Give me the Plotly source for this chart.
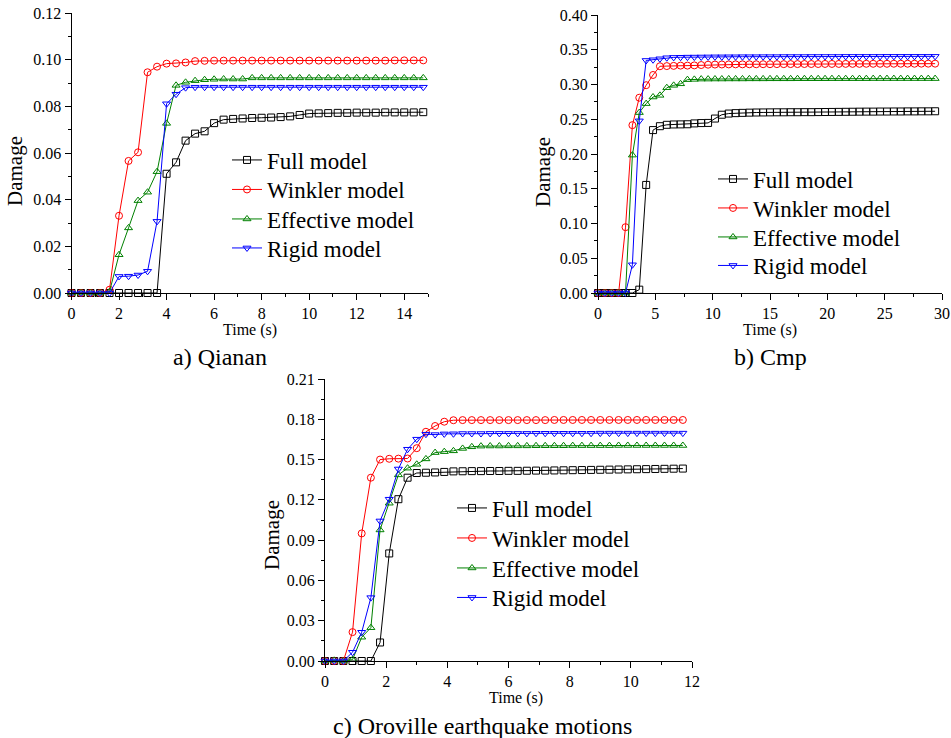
import plotly.graph_objects as go

# ---------------- data ----------------
# a) Qianan, sampled every 0.4 s
time_a = [0.0, 0.4, 0.8, 1.2, 1.6, 2.0, 2.4, 2.8, 3.2, 3.6, 4.0, 4.4, 4.8, 5.2, 5.6,
          6.0, 6.4, 6.8, 7.2, 7.6, 8.0, 8.4, 8.8, 9.2, 9.6, 10.0, 10.4, 10.8, 11.2,
          11.6, 12.0, 12.4, 12.8, 13.2, 13.6, 14.0, 14.4, 14.8]
full_a = [0, 0, 0, 0, 0, 0, 0, 0, 0, 0,
          0.0511, 0.0560, 0.0653, 0.0683, 0.0693, 0.0728, 0.0743, 0.0746, 0.0748, 0.0750,
          0.0751, 0.0752, 0.0754, 0.0757, 0.0763, 0.0769, 0.0770, 0.0771, 0.0772, 0.0772,
          0.0773, 0.0773, 0.0773, 0.0774, 0.0774, 0.0774, 0.0774, 0.0775]
winkler_a = [0, 0, 0, 0, 0.0014, 0.0331, 0.0566, 0.0603, 0.0946, 0.0970, 0.0983, 0.0984,
             0.0988, 0.0994, 0.0995, 0.0996, 0.0996, 0.0996, 0.0996, 0.0996, 0.0996, 0.0996,
             0.0996, 0.0996, 0.0996, 0.0996, 0.0996, 0.0996, 0.0996, 0.0996, 0.0996, 0.0996,
             0.0996, 0.0996, 0.0997, 0.0997, 0.0997, 0.0997]
effective_a = [0, 0, 0, 0, 0.0006, 0.0164, 0.0279, 0.0396, 0.0432, 0.0520, 0.0727, 0.0890,
               0.0903, 0.0910, 0.0914, 0.0916, 0.0917, 0.0917, 0.0917, 0.0922, 0.0922, 0.0922,
               0.0922, 0.0922, 0.0922, 0.0922, 0.0922, 0.0922, 0.0922, 0.0922, 0.0922, 0.0922,
               0.0922, 0.0922, 0.0922, 0.0922, 0.0922, 0.0922]
rigid_a = [0, 0, 0, 0, 0, 0.0071, 0.0072, 0.0077, 0.0093, 0.0307, 0.0811, 0.0852, 0.0880,
           0.0882, 0.0882, 0.0882, 0.0882, 0.0882, 0.0882, 0.0882, 0.0882, 0.0882, 0.0882,
           0.0882, 0.0882, 0.0882, 0.0882, 0.0882, 0.0882, 0.0882, 0.0882, 0.0882, 0.0882,
           0.0882, 0.0882, 0.0882, 0.0882, 0.0882]

# b) Cmp, sampled every 0.6 s
time_b = [0.0, 0.6, 1.2, 1.8, 2.4, 3.0, 3.6, 4.2, 4.8, 5.4, 6.0, 6.6, 7.2, 7.8, 8.4, 9.0,
          9.6, 10.2, 10.8, 11.4, 12.0, 12.6, 13.2, 13.8, 14.4, 15.0, 15.6, 16.2, 16.8, 17.4,
          18.0, 18.6, 19.2, 19.8, 20.4, 21.0, 21.6, 22.2, 22.8, 23.4, 24.0, 24.6, 25.2, 25.8,
          26.4, 27.0, 27.6, 28.2, 28.8, 29.4]
full_b = [0, 0, 0, 0, 0, 0, 0.0048, 0.1555, 0.2344, 0.2400, 0.2420, 0.2425, 0.2426, 0.2428,
          0.2440, 0.2445, 0.2447, 0.2510, 0.2565, 0.2582, 0.2588, 0.2592, 0.2595, 0.2597,
          0.2598, 0.2599, 0.2600, 0.2600, 0.2601, 0.2601, 0.2602, 0.2602, 0.2603, 0.2604,
          0.2605, 0.2606, 0.2607, 0.2608, 0.2609, 0.2610, 0.2610, 0.2611, 0.2611, 0.2612,
          0.2612, 0.2613, 0.2613, 0.2614, 0.2614, 0.2615]
winkler_b = [0, 0, 0, 0, 0.0947, 0.2415, 0.2810, 0.2990, 0.3137, 0.3262, 0.3265, 0.3268,
             0.3272, 0.3272, 0.3275, 0.3280, 0.3285, 0.3287, 0.3288, 0.3289, 0.3290, 0.3290,
             0.3291, 0.3291, 0.3292, 0.3292, 0.3293, 0.3293, 0.3294, 0.3294, 0.3295, 0.3295,
             0.3295, 0.3296, 0.3296, 0.3296, 0.3297, 0.3297, 0.3297, 0.3298, 0.3298, 0.3298,
             0.3298, 0.3299, 0.3299, 0.3299, 0.3299, 0.3300, 0.3300, 0.3300]
effective_b = [0, 0, 0, 0, 0, 0.1984, 0.2596, 0.2725, 0.2820, 0.2844, 0.2954, 0.2988,
               0.3010, 0.3070, 0.3074, 0.3078, 0.3078, 0.3079, 0.3079, 0.3080, 0.3080, 0.3080,
               0.3081, 0.3081, 0.3081, 0.3082, 0.3082, 0.3082, 0.3082, 0.3083, 0.3083, 0.3083,
               0.3083, 0.3083, 0.3084, 0.3084, 0.3084, 0.3084, 0.3084, 0.3084, 0.3085, 0.3085,
               0.3085, 0.3085, 0.3085, 0.3085, 0.3085, 0.3085, 0.3085, 0.3085]
rigid_b = [0, 0, 0, 0, 0, 0.0406, 0.2477, 0.3346, 0.3356, 0.3370, 0.3385, 0.3390, 0.3392,
           0.3394, 0.3395, 0.3396, 0.3397, 0.3398, 0.3398, 0.3399, 0.3399, 0.3400, 0.3400,
           0.3400, 0.3401, 0.3401, 0.3401, 0.3402, 0.3402, 0.3402, 0.3402, 0.3403, 0.3403,
           0.3403, 0.3403, 0.3403, 0.3404, 0.3404, 0.3404, 0.3404, 0.3404, 0.3404, 0.3405,
           0.3405, 0.3405, 0.3405, 0.3405, 0.3405, 0.3405, 0.3405]

# c) Oroville earthquake motions, sampled every 0.3 s
time_c = [0.0, 0.3, 0.6, 0.9, 1.2, 1.5, 1.8, 2.1, 2.4, 2.7, 3.0, 3.3, 3.6, 3.9, 4.2, 4.5,
          4.8, 5.1, 5.4, 5.7, 6.0, 6.3, 6.6, 6.9, 7.2, 7.5, 7.8, 8.1, 8.4, 8.7, 9.0, 9.3,
          9.6, 9.9, 10.2, 10.5, 10.8, 11.1, 11.4, 11.7]
full_c = [0, 0, 0, 0, 0, 0, 0.0138, 0.0801, 0.1205, 0.1365, 0.1400, 0.1402, 0.1404, 0.1408,
          0.1412, 0.1413, 0.1414, 0.1414, 0.1415, 0.1415, 0.1416, 0.1416, 0.1417, 0.1418,
          0.1418, 0.1419, 0.1420, 0.1421, 0.1422, 0.1423, 0.1424, 0.1425, 0.1426, 0.1427,
          0.1428, 0.1429, 0.1430, 0.1431, 0.1432, 0.1433]
winkler_c = [0, 0, 0, 0.0215, 0.0950, 0.1365, 0.1500, 0.1506, 0.1507, 0.1508, 0.1585, 0.1707,
             0.1750, 0.1782, 0.1793, 0.1794, 0.1794, 0.1794, 0.1794, 0.1794, 0.1794, 0.1794,
             0.1794, 0.1794, 0.1794, 0.1795, 0.1795, 0.1795, 0.1795, 0.1795, 0.1795, 0.1795,
             0.1795, 0.1795, 0.1795, 0.1795, 0.1795, 0.1795, 0.1795, 0.1795]
effective_c = [0, 0.0005, 0, 0.0010, 0.0177, 0.0248, 0.0976, 0.1175, 0.1386, 0.1436, 0.1465,
               0.1505, 0.1552, 0.1559, 0.1565, 0.1583, 0.1595, 0.1600, 0.1601, 0.1601, 0.1602,
               0.1602, 0.1602, 0.1603, 0.1603, 0.1603, 0.1603, 0.1604, 0.1604, 0.1604, 0.1604,
               0.1604, 0.1605, 0.1605, 0.1605, 0.1605, 0.1605, 0.1605, 0.1605, 0.1605]
rigid_c = [0, 0, 0, 0.0065, 0.0214, 0.0472, 0.1043, 0.1205, 0.1430, 0.1577, 0.1652, 0.1689,
           0.1686, 0.1691, 0.1692, 0.1694, 0.1694, 0.1694, 0.1695, 0.1695, 0.1695, 0.1695,
           0.1695, 0.1696, 0.1696, 0.1696, 0.1696, 0.1696, 0.1696, 0.1696, 0.1697, 0.1697,
           0.1697, 0.1697, 0.1697, 0.1697, 0.1697, 0.1697, 0.1697, 0.1697]

series_names = ["Full model", "Winkler model", "Effective model", "Rigid model"]
series_colors = ["#000000", "#ff0000", "#008000", "#0000ff"]
series_symbols = ["square-open", "circle-open", "triangle-up-open", "triangle-down-open"]

panel_captions = ["a) Qianan", "b) Cmp", "c) Oroville earthquake motions"]

# ---------------- layout geometry (pixels) ----------------
W, H = 951, 738
FONT = "Liberation Serif"


def px_x(v):
    return v / W


def px_y(v):
    return 1 - v / H


panels = [
    dict(time=time_a, ys=[full_a, winkler_a, effective_a, rigid_a],
         box=(71.5, 428, 13, 293), xrange=[0, 15], xdtick=2, yrange=[0, 0.12], ydtick=0.02,
         title_y=(15, 171), time_label=(250, 330), caption=(220, 357),
         legend_x=227, legend_rows=[160, 189.5, 219, 248]),
    dict(time=time_b, ys=[full_b, winkler_b, effective_b, rigid_b],
         box=(598, 942, 15, 293), xrange=[0, 30], xdtick=5, yrange=[0, 0.40], ydtick=0.05,
         title_y=(543, 172), time_label=(770, 330), caption=(770, 357),
         legend_x=713, legend_rows=[179, 208, 237, 265.5]),
    dict(time=time_c, ys=[full_c, winkler_c, effective_c, rigid_c],
         box=(325, 692, 379, 661), xrange=[0, 12], xdtick=2, yrange=[0, 0.21], ydtick=0.03,
         title_y=(272, 535), time_label=(516, 698), caption=(483, 726),
         legend_x=452, legend_rows=[508, 538, 568, 597.5]),
]

fig = go.Figure()
annotations = []
legend_idx = 0

for p_i, p in enumerate(panels):
    ax_suffix = "" if p_i == 0 else str(p_i + 1)
    xref = "x" + ax_suffix
    yref = "y" + ax_suffix
    x0, x1, y0, y1 = p["box"]

    for s_i in range(4):
        legend_idx += 1
        leg_name = "legend" if legend_idx == 1 else "legend" + str(legend_idx)
        fig.add_trace(go.Scatter(
            x=p["time"], y=p["ys"][s_i], name=series_names[s_i],
            mode="lines+markers", xaxis=xref, yaxis=yref,
            line=dict(color=series_colors[s_i], width=1),
            marker=dict(symbol=series_symbols[s_i], size=7, color=series_colors[s_i],
                        line=dict(width=1, color=series_colors[s_i])),
            legend=leg_name, showlegend=True, cliponaxis=False,
        ))
        fig.layout[leg_name] = dict(
            x=px_x(p["legend_x"]), xanchor="left",
            y=px_y(p["legend_rows"][s_i]), yanchor="middle",
            bgcolor="rgba(0,0,0,0)", borderwidth=0,
            font=dict(family=FONT, size=23, color="#000000"),
            itemwidth=30,
        )

    axis_common = dict(
        showline=True, linecolor="#000000", linewidth=1, mirror=False,
        ticks="outside", ticklen=6, tickwidth=1, tickcolor="#000000",
        showgrid=False, zeroline=False, automargin=False,
        tickfont=dict(family=FONT, size=16, color="#000000"),
    )
    fig.layout["xaxis" + ax_suffix] = dict(
        axis_common, domain=[px_x(x0), px_x(x1)], anchor=yref,
        range=p["xrange"], tick0=0, dtick=p["xdtick"],
        minor=dict(ticks="outside", ticklen=3, tickcolor="#000000",
                   dtick=p["xdtick"] / 2, showgrid=False),
    )
    fig.layout["yaxis" + ax_suffix] = dict(
        axis_common, domain=[px_y(y1), px_y(y0)], anchor=xref,
        range=p["yrange"], tick0=0, dtick=p["ydtick"], tickformat=".2f",
        minor=dict(ticks="outside", ticklen=3, tickcolor="#000000",
                   dtick=p["ydtick"] / 2, showgrid=False),
    )

    tx, ty = p["title_y"]
    annotations.append(dict(text="Damage", x=px_x(tx), y=px_y(ty), xref="paper", yref="paper",
                            textangle=-90, showarrow=False, xanchor="center", yanchor="middle",
                            font=dict(family=FONT, size=21, color="#000000")))
    lx, ly = p["time_label"]
    annotations.append(dict(text="Time (s)", x=px_x(lx), y=px_y(ly), xref="paper", yref="paper",
                            showarrow=False, xanchor="center", yanchor="middle",
                            font=dict(family=FONT, size=16, color="#000000")))
    cx, cy = p["caption"]
    annotations.append(dict(text=panel_captions[p_i], x=px_x(cx), y=px_y(cy), xref="paper",
                            yref="paper", showarrow=False, xanchor="center", yanchor="middle",
                            font=dict(family=FONT, size=24, color="#000000")))

fig.update_layout(
    width=W, height=H,
    margin=dict(l=0, r=0, t=0, b=0),
    paper_bgcolor="#ffffff", plot_bgcolor="#ffffff",
    annotations=annotations,
    font=dict(family=FONT, color="#000000"),
)

fig.write_html("out.html")
